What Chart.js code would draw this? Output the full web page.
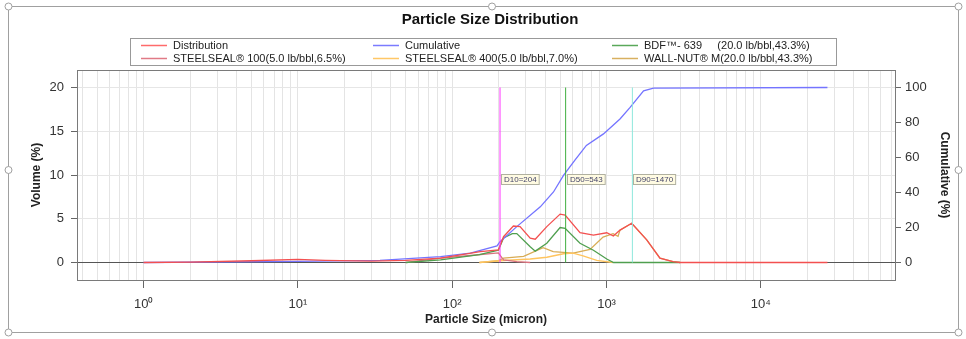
<!DOCTYPE html>
<html>
<head>
<meta charset="utf-8">
<script src="https://cdn.jsdelivr.net/npm/chart.js@4.4.1/dist/chart.umd.min.js"></script>
<style>
  html, body { margin: 0; padding: 0; background: #fff; }
  canvas { display: block; }
</style>
</head>
<body>
<canvas id="myChart" width="966" height="339"></canvas>
<script>
// particle sizes (micron) and values
var distSizes = [1, 2, 5, 10, 15, 30, 50, 84, 152, 199, 215, 249, 275, 320, 345, 410, 500, 539, 673, 822, 1003, 1107, 1222, 1456, 1821, 2218, 2693, 3000, 27000];
var distValues = [0, 0.05, 0.2, 0.35, 0.25, 0.15, 0.25, 0.5, 1.25, 1.44, 2.95, 4.17, 4.1, 2.77, 2.66, 4.1, 5.53, 5.42, 3.4, 3.13, 3.4, 3.03, 3.7, 4.48, 2.58, 0.5, 0.1, 0, 0];

var cumSizes = [1, 10, 34, 84, 131, 195, 204, 262, 372, 453, 526, 622, 740, 955, 1222, 1421, 1737, 2015, 27000];
var cumValues = [0, 0.6, 1.2, 3.4, 5.3, 9.5, 11.9, 20.5, 31.8, 40.3, 49.8, 58.4, 66.9, 73.5, 82, 88.6, 98.1, 99.7, 100];

var bdfSizes = [50, 84, 150, 199, 215, 245, 262, 320, 345, 410, 500, 539, 673, 822, 1003, 1110, 3000];
var bdfValues = [0, 0.3, 0.9, 1.4, 2.8, 3.3, 3.3, 1.8, 1.3, 2.2, 4.0, 3.9, 2.2, 1.4, 0.4, 0, 0];

var ss100Sizes = [50, 84, 131, 199, 215, 262, 320];
var ss100Values = [0, 0.5, 0.8, 1.1, 0.3, 0.1, 0];

var ss400Sizes = [150, 215, 320, 410, 526, 607, 704, 864, 1100];
var ss400Values = [0, 0.23, 0.4, 0.6, 1.0, 1.07, 0.76, 0.23, 0];

var wallSizes = [150, 199, 215, 290, 388, 451, 607, 782, 949, 1102, 1187, 1222, 1456, 1821, 2218, 2693, 3000];
var wallValues = [0, 0.2, 0.5, 0.7, 1.7, 1.25, 1.07, 1.5, 2.9, 3.3, 3.0, 3.7, 4.48, 2.58, 0.5, 0.1, 0];

var dNames = ['D10', 'D50', 'D90'];
var dSizes = [204, 543, 1470];
var dColors = ['#ff33ff', '#3fae3f', '#8ee8dc'];

var volTicks = [0, 5, 10, 15, 20];
var cumTicks = [0, 20, 40, 60, 80, 100];

function pts(xs, ys) {
  return xs.map(function (x, i) { return {x: x, y: ys[i]}; });
}

var legendItems = [
  {text: 'Distribution', color: '#ff6b6b'},
  {text: 'Cumulative', color: '#7b7bff'},
  {text: 'BDF\u2122- 639     (20.0 lb/bbl,43.3%)', color: '#5aa85a'},
  {text: 'STEELSEAL\u00ae 100(5.0 lb/bbl,6.5%)', color: '#e07a86'},
  {text: 'STEELSEAL\u00ae 400(5.0 lb/bbl,7.0%)', color: '#ffc766'},
  {text: 'WALL-NUT\u00ae M(20.0 lb/bbl,43.3%)', color: '#d8b060'}
];

var FONT = '"Liberation Sans", Arial, sans-serif';

var framePlugin = {
  id: 'frame',
  beforeDraw: function (chart) {
    var c = chart.ctx;
    c.save();
    c.fillStyle = '#fff';
    c.fillRect(0, 0, chart.width, chart.height);
    c.strokeStyle = '#a0a0a0';
    c.lineWidth = 1;
    c.strokeRect(8.5, 6.5, 950, 326);
    // small resize handles
    [[492, 6.5], [8.5, 170], [958.5, 170], [492, 332.5], [8.5, 6.5], [958.5, 6.5], [8.5, 332.5], [958.5, 332.5]].forEach(function (p) {
      c.beginPath();
      c.arc(p[0], p[1], 3.5, 0, Math.PI * 2);
      c.fillStyle = '#fff';
      c.fill();
      c.stroke();
    });
    c.restore();
  },
  afterDraw: function (chart) {
    var c = chart.ctx, a = chart.chartArea;
    c.save();
    // plot box
    c.strokeStyle = '#7a7a7a';
    c.lineWidth = 1;
    c.strokeRect(Math.round(a.left) + 0.5, Math.round(a.top) + 0.5, Math.round(a.right - a.left), Math.round(a.bottom - a.top));

    // title
    c.fillStyle = '#111';
    c.font = 'bold 15px ' + FONT;
    c.textAlign = 'center';
    c.textBaseline = 'middle';
    c.fillText('Particle Size Distribution', 490, 20);

    // legend
    c.strokeStyle = '#999';
    c.strokeRect(130.5, 38.5, 706, 27);
    c.font = '11px ' + FONT;
    c.textAlign = 'left';
    var colX = [141, 373, 612];
    var rowY = [45.5, 58.5];
    legendItems.forEach(function (it, i) {
      var x = colX[i % 3], y = rowY[Math.floor(i / 3)];
      c.strokeStyle = it.color;
      c.lineWidth = 1.5;
      c.beginPath();
      c.moveTo(x, y);
      c.lineTo(x + 26, y);
      c.stroke();
      c.fillStyle = '#222';
      c.fillText(it.text, x + 32, y + 0.5);
    });

    // D labels
    var xs = chart.scales.x, ys = chart.scales.y;
    c.font = '8px ' + FONT;
    dNames.forEach(function (n, i) {
      var px = xs.getPixelForValue(dSizes[i]) + 1;
      var py = ys.getPixelForValue(9.5);
      var t = n + '=' + dSizes[i];
      var w = c.measureText(t).width + 5;
      c.fillStyle = '#fffbe2';
      c.fillRect(Math.round(px) + 0.5, Math.round(py - 5) + 0.5, w, 10);
      c.strokeStyle = '#b0b0a0';
      c.lineWidth = 1;
      c.strokeRect(Math.round(px) + 0.5, Math.round(py - 5) + 0.5, w, 10);
      c.fillStyle = '#44446a';
      c.fillText(t, Math.round(px) + 3, Math.round(py) + 0.5);
    });
    c.restore();
  }
};

function line(label, xs, ys, color, axis, width) {
  return {
    label: label,
    data: pts(xs, ys),
    borderColor: color,
    backgroundColor: color,
    borderWidth: width || 1.3,
    showLine: true,
    pointRadius: 0,
    tension: 0,
    yAxisID: axis || 'y'
  };
}

// Chart.js paints the first dataset on top
var datasets = [];
dNames.forEach(function (n, i) {
  datasets.push(line(n, [dSizes[i], dSizes[i]], [0, 20], dColors[i], 'y', 1));
});
datasets.push(line('Distribution', distSizes, distValues, '#f35050'));
datasets.push(line('Cumulative', cumSizes, cumValues, '#7474ff', 'y1'));
datasets.push(line('BDF-639', bdfSizes, bdfValues, '#4f9f4f'));
datasets.push(line('STEELSEAL 100', ss100Sizes, ss100Values, '#d9727e'));
datasets.push(line('STEELSEAL 400', ss400Sizes, ss400Values, '#ffc45e'));
datasets.push(line('WALL-NUT M', wallSizes, wallValues, '#d8ac55'));

function isDecade(v) {
  var l = Math.log10(v);
  return Math.abs(l - Math.round(l)) < 1e-9;
}
var sup = ['\u2070', '\u00b9', '\u00b2', '\u00b3', '\u2074', '\u2075'];

var ctx = document.getElementById('myChart').getContext('2d');
var myChart = new Chart(ctx, {
  type: 'scatter',
  data: {datasets: datasets},
  plugins: [framePlugin],
  options: {
    responsive: false,
    animation: false,
    events: [],
    layout: {padding: {top: 70, left: 25, right: 10, bottom: 8}},
    plugins: {
      legend: {display: false},
      title: {display: false},
      tooltip: {enabled: false}
    },
    scales: {
      x: {
        type: 'logarithmic',
        min: 0.37,
        max: 74000,
        border: {display: false},
        afterBuildTicks: function (scale) {
          var t = [];
          for (var e = -1; e <= 4; e++) {
            for (var m = 1; m <= 9; m++) {
              var v = m * Math.pow(10, e);
              if (v >= 0.4 && v <= 70000) t.push({value: v});
            }
          }
          scale.ticks = t;
        },
        afterFit: function (scale) { scale.height = 51; },
        grid: {
          color: '#e4e4e4',
          tickLength: 8,
          tickColor: function (c) {
            return c.tick && isDecade(c.tick.value) ? '#666' : 'rgba(0,0,0,0)';
          }
        },
        ticks: {
          autoSkip: false,
          maxRotation: 0,
          padding: 9,
          color: '#333',
          font: {family: FONT, size: 13},
          callback: function (v) {
            if (!isDecade(v)) return '';
            return '10' + sup[Math.round(Math.log10(v))];
          }
        },
        title: {
          display: true,
          text: 'Particle Size (micron)',
          color: '#222',
          font: {family: FONT, size: 12, weight: 'bold'}
        }
      },
      y: {
        position: 'left',
        min: -2,
        max: 22,
        border: {display: false},
        afterBuildTicks: function (scale) {
          scale.ticks = volTicks.map(function (v) { return {value: v}; });
        },
        afterFit: function (scale) { scale.width = 52; },
        grid: {
          color: function (c) { return c.tick && c.tick.value === 0 ? '#555' : '#e6e6e6'; },
          tickLength: 6,
          tickColor: '#666'
        },
        ticks: {
          padding: 7,
          color: '#333',
          font: {family: FONT, size: 13}
        },
        title: {
          display: true,
          text: 'Volume (%)',
          color: '#222',
          font: {family: FONT, size: 12, weight: 'bold'}
        }
      },
      y1: {
        position: 'right',
        min: -10,
        max: 110,
        border: {display: false},
        afterBuildTicks: function (scale) {
          scale.ticks = cumTicks.map(function (v) { return {value: v}; });
        },
        afterFit: function (scale) { scale.width = 61; },
        grid: {
          drawOnChartArea: false,
          tickLength: 6,
          tickColor: '#666'
        },
        ticks: {
          padding: 4,
          color: '#333',
          font: {family: FONT, size: 13}
        },
        title: {
          display: true,
          text: 'Cumulative (%)',
          color: '#222',
          font: {family: FONT, size: 12, weight: 'bold'}
        }
      }
    }
  }
});
</script>
</body>
</html>
